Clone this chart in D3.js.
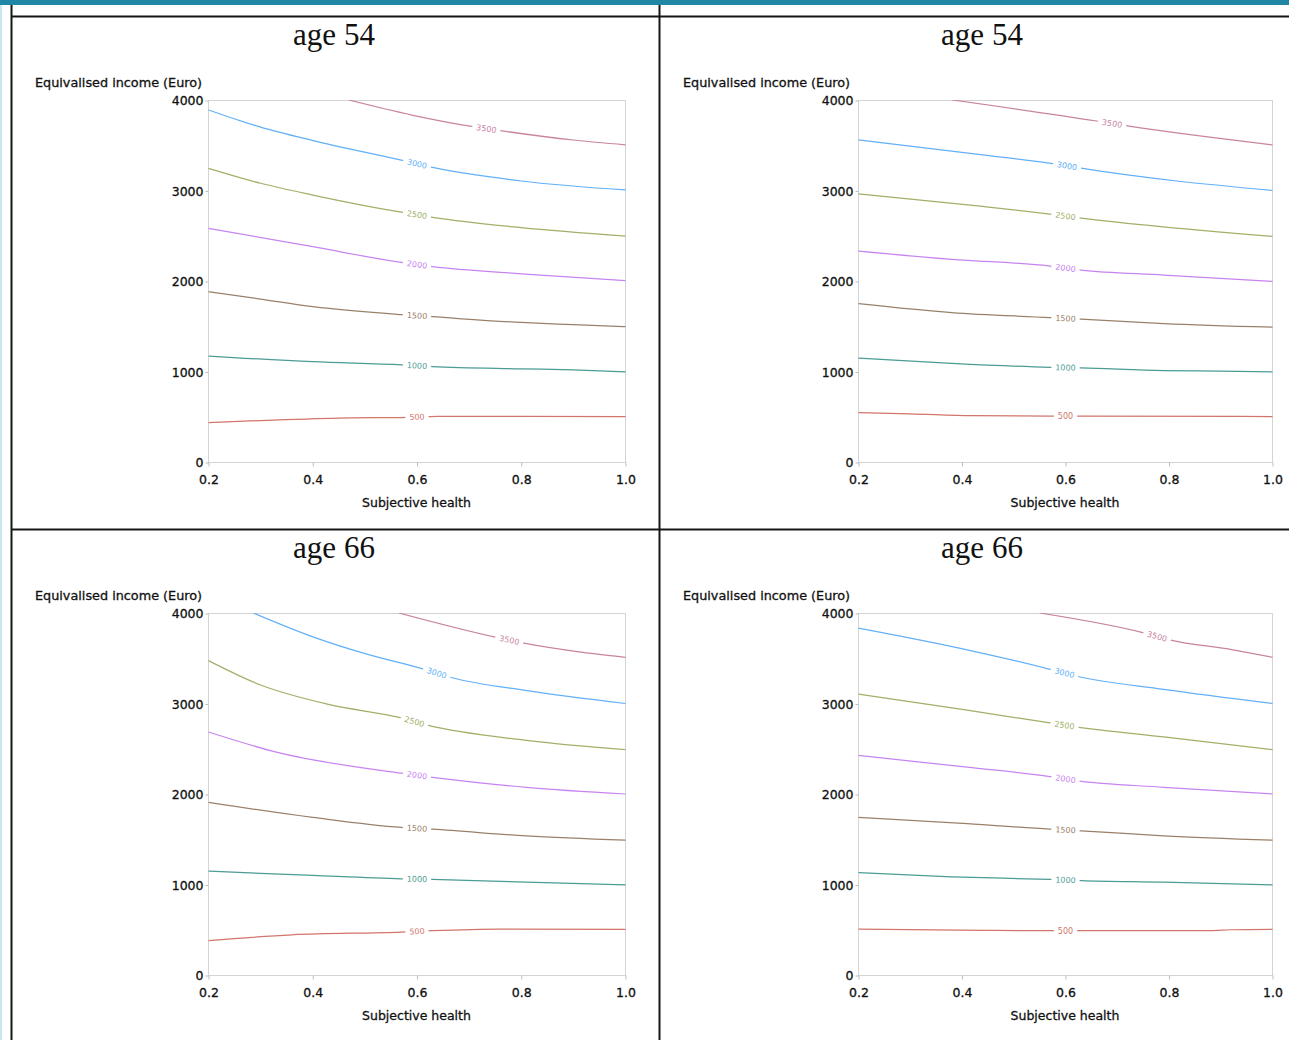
<!DOCTYPE html>
<html><head><meta charset="utf-8">
<script src="https://cdn.jsdelivr.net/npm/d3@7"></script>
<style>body{margin:0;background:#fff;overflow:hidden}</style></head>
<body><svg id="c" width="1289" height="1040"></svg>
<script>
// ---- data ----
const levels = [500, 1000, 1500, 2000, 2500, 3000, 3500];
const levelColors = ["#d2756b", "#4a9c94", "#9a806a", "#c784f0", "#a0b068", "#62b0f7", "#c8849f"];
const xTicks = [0.2, 0.4, 0.6, 0.8, 1.0];
const yTicks = [0, 1000, 2000, 3000, 4000];
const panelTitles = ["age 54", "age 54", "age 66", "age 66"];
const xTitle = "Subjective health";
const yTitle = "Equivalised income (Euro)";

// contour lines: [subjective health, income] per level (500..3500)
const contours54L = [
  [[0.2,435],[0.3,458],[0.45,485],[0.58,494],[0.64,505],[0.8,504],[1.0,502]],
  [[0.2,1171],[0.4,1108],[0.57,1074],[0.63,1055],[0.8,1030],[0.9,1018],[1.0,997]],
  [[0.2,1882],[0.3,1800],[0.4,1716],[0.57,1628],[0.63,1605],[0.8,1542],[0.9,1518],[1.0,1495]],
  [[0.2,2582],[0.4,2379],[0.57,2205],[0.63,2158],[0.8,2080],[1.0,2004]],
  [[0.2,3245],[0.3,3080],[0.4,2950],[0.57,2760],[0.63,2704],[0.8,2590],[1.0,2497]],
  [[0.2,3890],[0.3,3700],[0.4,3552],[0.57,3335],[0.63,3255],[0.8,3105],[1.0,3006]],
  [[0.469,4000],[0.59,3834],[0.708,3705],[0.76,3661],[0.9,3558],[1.0,3505]]
];
const contours54R = [
  [[0.2,545],[0.3,532],[0.42,512],[0.57,506],[0.63,506],[1.0,502]],
  [[0.2,1149],[0.38,1090],[0.57,1046],[0.63,1039],[0.79,1009],[0.9,1004],[1.0,995]],
  [[0.2,1750],[0.38,1651],[0.57,1596],[0.63,1578],[0.79,1530],[1.0,1490]],
  [[0.2,2330],[0.38,2239],[0.57,2165],[0.63,2121],[0.79,2066],[1.0,1995]],
  [[0.2,2963],[0.44,2824],[0.57,2739],[0.63,2695],[1.0,2493]],
  [[0.2,3559],[0.44,3393],[0.58,3294],[0.63,3246],[1.0,3000]],
  [[0.381,4000],[0.66,3768],[0.72,3713],[1.0,3504]]
];
const contours66L = [
  [[0.2,381],[0.36,444],[0.57,474],[0.63,489],[0.76,507],[1.0,505]],
  [[0.2,1148],[0.4,1100],[0.57,1063],[0.63,1056],[0.81,1026],[1.0,996]],
  [[0.2,1907],[0.4,1741],[0.57,1630],[0.63,1611],[0.81,1537],[1.0,1489]],
  [[0.2,2685],[0.33,2463],[0.57,2230],[0.63,2185],[0.81,2074],[1.0,2000]],
  [[0.2,3474],[0.3,3204],[0.43,2990],[0.57,2840],[0.62,2760],[0.81,2593],[1.0,2489]],
  [[0.286,4000],[0.395,3748],[0.504,3545],[0.613,3380],[0.664,3290],[0.811,3141],[1.0,3000]],
  [[0.565,4000],[0.75,3733],[0.805,3667],[0.907,3574],[1.0,3511]]
];
const contours66R = [
  [[0.2,507],[0.44,493],[0.57,489],[0.63,489],[0.88,490],[0.92,500],[1.0,505]],
  [[0.2,1130],[0.38,1085],[0.57,1056],[0.63,1044],[0.79,1026],[1.0,996]],
  [[0.2,1741],[0.41,1674],[0.57,1611],[0.63,1593],[0.79,1537],[1.0,1489]],
  [[0.2,2426],[0.41,2296],[0.57,2193],[0.62,2148],[0.79,2074],[1.0,2000]],
  [[0.2,3104],[0.41,2926],[0.57,2785],[0.62,2741],[0.79,2630],[1.0,2489]],
  [[0.2,3833],[0.41,3593],[0.57,3378],[0.62,3304],[0.79,3156],[1.0,3000]],
  [[0.55,4000],[0.753,3778],[0.801,3704],[0.923,3593],[1.0,3511]]
];
// x position (subjective health) of each contour's inline label
const labelX54L = [0.6, 0.6, 0.6, 0.6, 0.6, 0.6, 0.733];
const labelX54R = [0.6, 0.6, 0.6, 0.6, 0.6, 0.603, 0.69];
const labelX66L = [0.6, 0.6, 0.6, 0.6, 0.595, 0.638, 0.777];
const labelX66R = [0.6, 0.6, 0.6, 0.6, 0.598, 0.598, 0.777];

const panelContours = [contours54L, contours54R, contours66L, contours66R];
const panelLabelX = [labelX54L, labelX54R, labelX66L, labelX66R];

// ---- layout ----
const layout = [
  {x0:208, x1:625, y0:100, y1:462, tx:334, ty:45, lx:35},
  {x0:858, x1:1272, y0:100, y1:462, tx:982, ty:45, lx:683},
  {x0:208, x1:625, y0:613, y1:975, tx:334, ty:558, lx:35},
  {x0:858, x1:1272, y0:613, y1:975, tx:982, ty:558, lx:683}
];

const svg = d3.select("#c");
svg.append("rect").attr("width",1289).attr("height",1040).attr("fill","#fff");
// page chrome / table borders
svg.append("rect").attr("x",0).attr("y",0).attr("width",1289).attr("height",5).attr("fill","#1f86a6");
svg.append("rect").attr("x",0).attr("y",5).attr("width",2).attr("height",1035).attr("fill","#c9e6f1");
const border = "#161616";
[[11.5,5,11.5,1040],[659.5,5,659.5,1040],[11,16.5,1289,16.5],[11,529.5,1289,529.5]].forEach(l=>{
  svg.append("line").attr("x1",l[0]).attr("y1",l[1]).attr("x2",l[2]).attr("y2",l[3])
    .attr("stroke",border).attr("stroke-width",2);
});

const sans = "'DejaVu Sans', Verdana, sans-serif";
function heavy(sel){
  return sel.attr("font-family",sans).attr("fill","#111").attr("stroke","#111").attr("stroke-width",0.3);
}

function interp(pts, xv){
  if (xv <= pts[0][0]) return pts[0][1];
  for (let i=0;i<pts.length-1;i++){
    const a=pts[i], b=pts[i+1];
    if (xv>=a[0] && xv<=b[0]) return a[1] + (b[1]-a[1])*(xv-a[0])/(b[0]-a[0]);
  }
  return pts[pts.length-1][1];
}

layout.forEach((L, pi) => {
  const g = svg.append("g");
  const x = d3.scaleLinear().domain([0.2, 1.0]).range([L.x0, L.x1]);
  const y = d3.scaleLinear().domain([0, 4000]).range([L.y1, L.y0]);

  // title
  g.append("text").attr("x", L.tx).attr("y", L.ty).attr("text-anchor","middle")
    .attr("font-family","'Liberation Serif','Times New Roman',serif").attr("font-size",31)
    .attr("fill","#111").text(panelTitles[pi]);

  // frame
  g.append("rect").attr("x", L.x0+0.5).attr("y", L.y0+0.5)
    .attr("width", L.x1-L.x0).attr("height", L.y1-L.y0)
    .attr("fill","none").attr("stroke","#d4d4d4").attr("stroke-width",1);

  // axes
  const xa = g.append("g").attr("transform",`translate(0.5,${L.y1+0.5})`)
    .call(d3.axisBottom(x).tickValues(xTicks).tickFormat(d3.format(".1f")).tickSize(4).tickPadding(9));
  const ya = g.append("g").attr("transform",`translate(${L.x0+0.5},0.5)`)
    .call(d3.axisLeft(y).tickValues(yTicks).tickFormat(d3.format("d")).tickSize(3).tickPadding(2));
  [xa, ya].forEach(a => {
    a.select(".domain").remove();
    a.selectAll(".tick line").attr("stroke","#bdbdbd");
    heavy(a.selectAll(".tick text")).attr("font-size",12.5);
  });

  // axis titles
  heavy(g.append("text").attr("x",(L.x0+L.x1)/2).attr("y",L.y1+45).attr("text-anchor","middle")
    .attr("font-size",12.5)).text(xTitle);
  heavy(g.append("text").attr("x",L.lx).attr("y",L.y0-13).attr("text-anchor","start")
    .attr("font-size",12.8)).text(yTitle);

  // clip
  const cid = "clip"+pi;
  svg.append("clipPath").attr("id",cid).append("rect")
    .attr("x",L.x0).attr("y",L.y0).attr("width",L.x1-L.x0+1).attr("height",L.y1-L.y0+1);
  const plot = g.append("g").attr("clip-path",`url(#${cid})`);

  const line = d3.line().x(d=>x(d[0])+0.5).y(d=>y(d[1])).curve(d3.curveMonotoneX);
  const conts = panelContours[pi];
  conts.forEach((pts, li) => {
    plot.append("path").attr("d", line(pts)).attr("fill","none")
      .attr("stroke", levelColors[li]).attr("stroke-width",1.25);
  });
  // inline labels
  conts.forEach((pts, li) => {
    const xv = panelLabelX[pi][li];
    const px = x(xv)+0.5, py = y(interp(pts, xv));
    const dx = 0.025;
    const ang = Math.atan2(y(interp(pts,xv+dx)) - y(interp(pts,xv-dx)), x(xv+dx)-x(xv-dx)) * 180/Math.PI;
    const lg = plot.append("g").attr("transform",`translate(${px},${py}) rotate(${ang})`);
    const bg = lg.append("rect").attr("fill","#fff");
    const t = lg.append("text").attr("text-anchor","middle").attr("dy","0.35em")
      .attr("font-family",sans).attr("font-size",8).attr("fill",levelColors[li])
      .text(String(levels[li]));
    const w = t.node().getComputedTextLength();
    bg.attr("x",-w/2-4).attr("y",-4).attr("width",w+8).attr("height",8);
  });
});
</script>
</body></html>
